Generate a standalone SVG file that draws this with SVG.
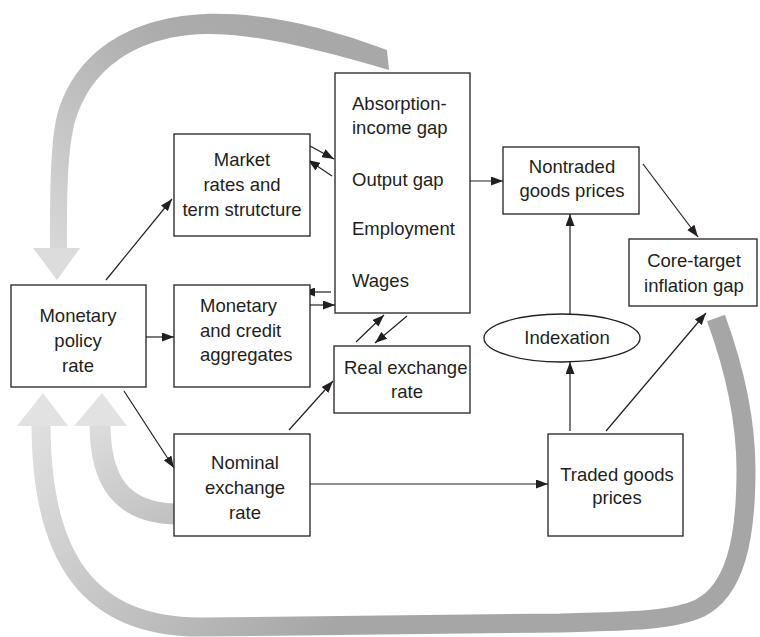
<svg xmlns="http://www.w3.org/2000/svg" width="760" height="637" viewBox="0 0 760 637">
<style>
.box{fill:#fff;stroke:#231f20;stroke-width:1.3}
.t{font-family:"Liberation Sans",Arial,sans-serif;font-size:18.5px;fill:#231f20}
.c{text-anchor:middle}
.ln{stroke:#231f20;stroke-width:1.2;fill:none;marker-end:url(#ah)}
</style>
<defs>
<marker id="ah" markerWidth="12" markerHeight="9" refX="12" refY="4.5" orient="auto" markerUnits="userSpaceOnUse"><path d="M0,0 L12,4.5 L0,9 z" fill="#231f20"/></marker>
<linearGradient id="gTop" gradientUnits="userSpaceOnUse" x1="300" y1="20" x2="57" y2="280"><stop offset="0" stop-color="#a8a8a8"/><stop offset="0.3" stop-color="#acacac"/><stop offset="1" stop-color="#dcdcdc"/></linearGradient>
<linearGradient id="gBot" gradientUnits="userSpaceOnUse" x1="330" y1="630" x2="42" y2="393"><stop offset="0" stop-color="#a6a6a6"/><stop offset="1" stop-color="#e2e2e2"/></linearGradient>
<linearGradient id="gSm" gradientUnits="userSpaceOnUse" x1="172" y1="514" x2="102" y2="393"><stop offset="0" stop-color="#c2c2c2"/><stop offset="1" stop-color="#e2e2e2"/></linearGradient>
</defs>
<g id="feedback">
<path d="M387,50 C320,25 260,12 205,14 C120,18 70,60 56,120 C50,150 50,200 50,250 L67,250 C67,200 67,160 73,130 C85,75 130,36 205,34 C255,33 320,50 389,70 Z" fill="url(#gTop)"/>
<polygon points="33,248 80,248 57,280" fill="#dcdcdc"/>
<path d="M716,318 C735,370 746,420 746,470 C746,540 735,590 700,608 C670,622 620,621 560,623 L200,627 C90,627 41,560 41,423" fill="none" stroke="url(#gBot)" stroke-width="19"/>
<polygon points="17,426 68,426 43,393" fill="#e2e2e2"/>
<path d="M174,514 C120,512 100,480 100,423" fill="none" stroke="url(#gSm)" stroke-width="21"/>
<polygon points="74,426 127,426 102,393" fill="#e2e2e2"/>
</g>
<g id="connectors">
<line class="ln" x1="106" y1="280" x2="172" y2="199"/>
<line class="ln" x1="146" y1="337" x2="174" y2="337"/>
<line class="ln" x1="124" y1="391" x2="174" y2="468"/>
<line class="ln" x1="289" y1="430" x2="333" y2="381"/>
<line class="ln" x1="310" y1="484" x2="548" y2="484"/>
<line class="ln" x1="310" y1="146" x2="334" y2="159"/>
<line class="ln" x1="332" y1="176" x2="308" y2="160"/>
<line class="ln" x1="331" y1="292" x2="303" y2="292"/>
<line class="ln" x1="309" y1="305" x2="335" y2="305"/>
<line class="ln" x1="356" y1="342" x2="384" y2="315"/>
<line class="ln" x1="407" y1="316" x2="375" y2="343"/>
<line class="ln" x1="470" y1="181" x2="503" y2="181"/>
<line class="ln" x1="643" y1="164" x2="698" y2="237"/>
<line class="ln" x1="570" y1="314" x2="570" y2="214"/>
<line class="ln" x1="570" y1="431" x2="570" y2="362"/>
<line class="ln" x1="606" y1="431" x2="706" y2="313"/>
</g>
<g id="policy"><rect class="box" x="11" y="285" width="135" height="102"/>
<text class="t c" x="78" y="322">Monetary</text><text class="t c" x="78" y="347">policy</text><text class="t c" x="78" y="372">rate</text></g>
<g id="market"><rect class="box" x="174" y="134" width="136" height="102"/>
<text class="t c" x="242" y="166">Market</text><text class="t c" x="242" y="191">rates and</text><text class="t c" x="242" y="216">term strutcture</text></g>
<g id="aggregates"><rect class="box" x="174" y="285" width="136" height="102"/>
<text class="t" x="200" y="312">Monetary</text><text class="t" x="200" y="337">and credit</text><text class="t" x="200" y="361">aggregates</text></g>
<g id="nominal"><rect class="box" x="174" y="434" width="136" height="102"/>
<text class="t c" x="245" y="469">Nominal</text><text class="t c" x="245" y="494">exchange</text><text class="t c" x="245" y="519">rate</text></g>
<g id="gaps"><rect class="box" x="335" y="73" width="135" height="240"/>
<text class="t" x="352" y="110">Absorption-</text><text class="t" x="352" y="134">income gap</text><text class="t" x="352" y="186">Output gap</text><text class="t" x="352" y="235">Employment</text><text class="t" x="352" y="287">Wages</text></g>
<g id="real"><rect class="box" x="334" y="346" width="136" height="67"/>
<text class="t" x="344" y="374">Real exchange</text><text class="t c" x="407" y="398">rate</text></g>
<g id="nontraded"><rect class="box" x="503" y="147" width="136" height="67"/>
<text class="t c" x="572" y="173">Nontraded</text><text class="t c" x="572" y="197">goods prices</text></g>
<g id="core"><rect class="box" x="629" y="239" width="128" height="67"/>
<text class="t c" x="694" y="267">Core-target</text><text class="t c" x="694" y="292">inflation gap</text></g>
<g id="indexation"><ellipse class="box" cx="562" cy="338" rx="78" ry="24"/>
<text class="t c" x="567" y="344">Indexation</text></g>
<g id="traded"><rect class="box" x="548" y="434" width="135" height="102"/>
<text class="t c" x="617" y="481">Traded goods</text><text class="t c" x="617" y="504">prices</text></g>
</svg>
